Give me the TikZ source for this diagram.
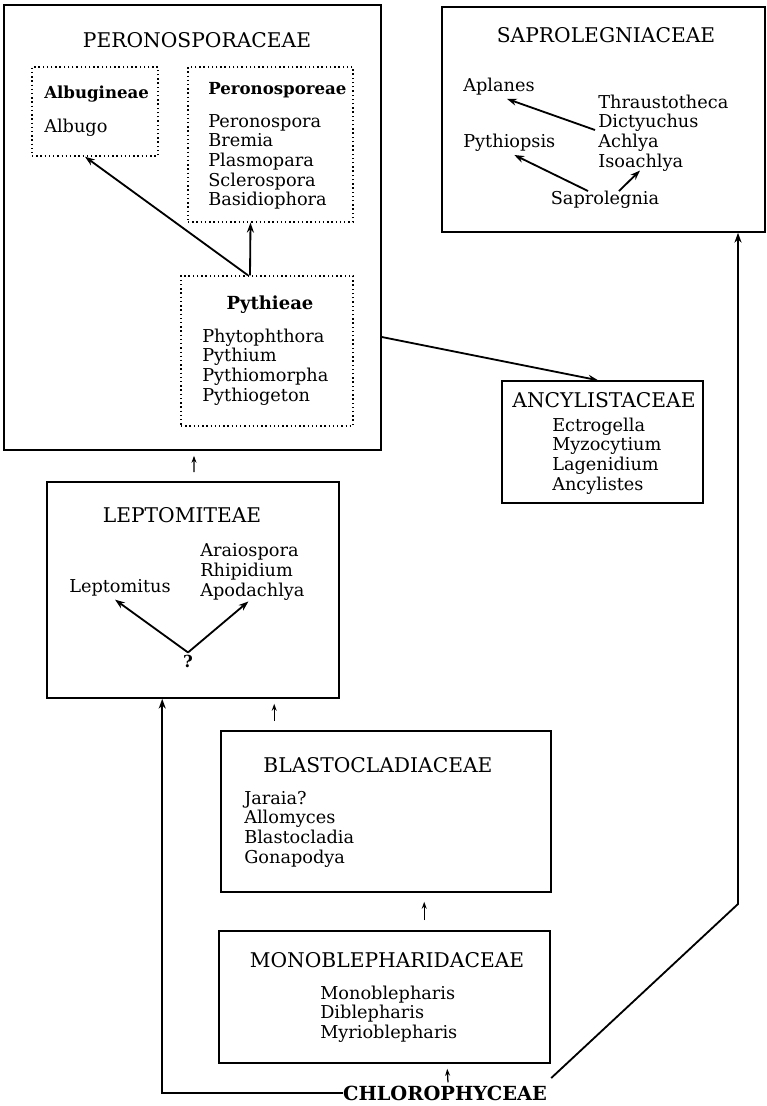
\documentclass[tikz,border=0pt]{standalone}
\usepackage{fontspec}
\setmainfont{DejaVu Serif}
\usetikzlibrary{arrows.meta, fit, calc}

\tikzset{
  famgroup/.style={draw, line width=1.1pt, inner sep=0pt},
  tribe/.style={draw, dotted, line width=1pt, inner sep=0pt},
  famname/.style={font=\fontsize{14.4}{16}\selectfont, inner sep=0pt},
  tribename/.style={font=\bfseries\fontsize{11.8}{14}\selectfont, inner sep=0pt},
  genera/.style={font=\fontsize{12.6}{14}\selectfont, align=left, anchor=west, inner sep=0pt},
  link/.style={-{Stealth[length=7pt,width=5pt]}, line width=1.3pt},
  stub/.style={-{Stealth[length=5pt,width=3.5pt]}, line width=0.9pt},
}

\begin{document}
\begin{tikzpicture}[x=0.025cm, y=-0.025cm]
  \useasboundingbox (0,0) rectangle (767,1106);
  % --- Peronosporaceae with its three tribes ---
  \node[famgroup, fit={(4,5) (381,450)}] (peron) {};
  \node[famname] (perontitle) at (197,40) {PERONOSPORACEAE};
  \node[tribe, fit={(32,67) (158,156)}] (albu) {};
  \node[tribename, anchor=west] (albuname) at (44,94) {Albugineae};
  \node[genera] (albugo) at (44,128) {Albugo};
  \node[tribe, fit={(188,67) (353,222)}] (perono) {};
  \node[tribename, anchor=west] (perononame) at (208,90) {Peronosporeae};
  \node[genera] (peronolist) at (208,162) {Peronospora\\Bremia\\Plasmopara\\Sclerospora\\Basidiophora};
  \node[tribe, fit={(181,276) (353,426)}] (pyth) {};
  \node[tribename, font=\bfseries\fontsize{12.8}{14}\selectfont] (pythname) at (270,305) {Pythieae};
  \node[genera] (pythlist) at (202,367) {Phytophthora\\Pythium\\Pythiomorpha\\Pythiogeton};
  \draw[link] ($(pyth.north)+(-19,0)$) -- ($(albu.south)+(-10,0)$);
  \draw[link] ($(pyth.north)+(-17,0)$) -- ($(perono.south)+(-20,0)$);
  % --- Saprolegniaceae ---
  \node[famgroup, fit={(442,7) (765,232)}] (sapro) {};
  \node[famname] (saprotitle) at (606,35) {SAPROLEGNIACEAE};
  \node[genera] (aplanes) at (463,87) {Aplanes};
  \node[genera] (pythiops) at (463,143) {Pythiopsis};
  \node[genera] (saprolist) at (598,133) {Thraustotheca\\Dictyuchus\\Achlya\\Isoachlya};
  \node[genera, anchor=center] (saprol) at (605,200) {Saprolegnia};
  \draw[link] ($(saprolist.west)+(-3,-3)$) -- ($(aplanes.south)+(8,3)$);
  \draw[link] ($(saprol.north)+(-17,0)$) -- ($(pythiops.south)+(5,3)$);
  \draw[link] ($(saprol.north)+(14,0)$) -- ($(saprolist.south west)+(42,-1)$);
  % --- Ancylistaceae ---
  \node[famgroup, fit={(502,381) (703,503)}] (ancyl) {};
  \node[famname] (ancyltitle) at (604,400) {ANCYLISTACEAE};
  \node[genera] (ancyllist) at (552,456) {Ectrogella\\Myzocytium\\Lagenidium\\Ancylistes};
  \draw[link] ($(peron.east)+(0,109.5)$) -- ($(ancyl.north)+(-4.5,0)$);
  % --- Leptomiteae ---
  \node[famgroup, fit={(47,482) (339,698)}] (lepto) {};
  \node[famname] (leptotitle) at (182,515) {LEPTOMITEAE};
  \node[genera, anchor=center] (leptomitus) at (120,588) {Leptomitus};
  \node[genera] (leptolist) at (200,572) {Araiospora\\Rhipidium\\Apodachlya};
  \node[tribename] (query) at (188,661) {?};
  \draw[link] ($(query.north)+(0,-2)$) -- ($(leptomitus.south)+(-5,3)$);
  \draw[link] ($(query.north)+(0,-2)$) -- ($(leptolist.south)+(-4,1)$);
  \draw[stub] ($(lepto.north)+(1,-9)$) -- ($(peron.south)+(1.5,5)$);
  % --- Blastocladiaceae ---
  \node[famgroup, fit={(221,731) (551,892)}] (blasto) {};
  \node[famname] (blastotitle) at (378,765) {BLASTOCLADIACEAE};
  \node[genera] (blastolist) at (244,829) {Jaraia?\\Allomyces\\Blastocladia\\Gonapodya};
  \draw[stub] ($(blasto.north west)+(54,-9)$) -- ($(lepto.south west)+(228,5)$);
  % --- Monoblepharidaceae ---
  \node[famgroup, fit={(219,931) (550,1063)}] (mono) {};
  \node[famname] (monotitle) at (387,960) {MONOBLEPHARIDACEAE};
  \node[genera] (monolist) at (320,1014) {Monoblepharis\\Diblepharis\\Myrioblepharis};
  \draw[stub] ($(mono.north west)+(206,-10)$) -- ($(blasto.south west)+(204,9)$);
  % --- Chlorophyceae at the root ---
  \node[famname, font=\bfseries\fontsize{13.8}{15}\selectfont] (chloro) at (445,1093) {CHLOROPHYCEAE};
  \draw[stub] ($(chloro.north)+(3,-3)$) -- ($(mono.south west)+(229,5)$);
  \draw[link] (chloro.west) -| ($(lepto.south west)+(116,0)$);
  \coordinate (bend) at (738,904);
  \draw[link] ($(chloro.east)+(4,-15)$) -- (bend) -- (bend |- sapro.south);
\end{tikzpicture}
\end{document}
